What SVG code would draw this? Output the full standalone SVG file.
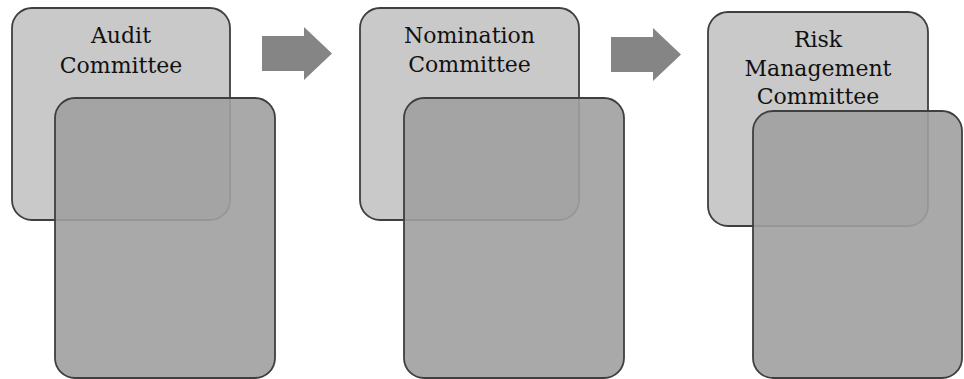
<svg xmlns="http://www.w3.org/2000/svg" width="964" height="379" viewBox="0 0 964 379">
<style>
.back{fill:#c9c9c9;stroke:#3f3f3f;stroke-width:1.8}
.front{fill:#a0a0a0;fill-opacity:0.9;stroke:#3f3f3f;stroke-width:1.8}
.lbl{font-family:"DejaVu Serif","Liberation Serif",serif;font-size:22px;fill:#111;text-anchor:middle}
.arr{fill:#858585}
</style>
<rect width="964" height="379" fill="#ffffff"/>
<g id="connectors">
<polygon class="arr" points="262,36 304,36 304,27 332,53.5 304,80 304,71 262,71"/>
<polygon class="arr" points="611,37 653,37 653,28 681,54.5 653,81 653,72 611,72"/>
</g>
<g id="audit">
<rect class="back" x="12" y="8" width="218" height="212" rx="20"/>
<text class="lbl" x="121" y="43">Audit</text>
<text class="lbl" x="121" y="73">Committee</text>
<rect class="front" x="55" y="98" width="220" height="280" rx="20"/>
</g>
<g id="nomination">
<rect class="back" x="360" y="8" width="219" height="212" rx="20"/>
<text class="lbl" x="469.5" y="43">Nomination</text>
<text class="lbl" x="469.5" y="72">Committee</text>
<rect class="front" x="404" y="98" width="220" height="280" rx="20"/>
</g>
<g id="risk">
<rect class="back" x="708" y="12" width="220" height="214" rx="20"/>
<text class="lbl" x="818" y="47">Risk</text>
<text class="lbl" x="818" y="76">Management</text>
<text class="lbl" x="818" y="104">Committee</text>
<rect class="front" x="753" y="111" width="209" height="267" rx="20"/>
</g>
</svg>
